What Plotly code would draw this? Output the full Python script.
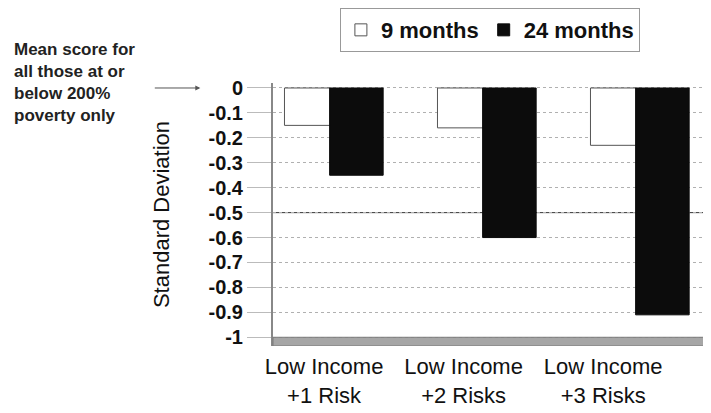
import plotly.graph_objects as go

categories = ["Low Income<br>+1 Risk", "Low Income<br>+2 Risks", "Low Income<br>+3 Risks"]
months_9 = [-0.15, -0.16, -0.23]
months_24 = [-0.35, -0.60, -0.91]
series_names = ["9 months", "24 months"]
y_tick_vals = [0, -0.1, -0.2, -0.3, -0.4, -0.5, -0.6, -0.7, -0.8, -0.9, -1]
y_tick_text = ["0", "-0.1", "-0.2", "-0.3", "-0.4", "-0.5", "-0.6", "-0.7", "-0.8", "-0.9", "-1"]
note_text = "Mean score for<br>all those at or<br>below 200%<br>poverty only"
y_title = "Standard Deviation"

FONT = "Liberation Sans, Arial, sans-serif"

fig = go.Figure()
fig.add_trace(go.Bar(
    x=categories, y=months_9, name=series_names[0],
    marker=dict(color="white", line=dict(color="#555555", width=1)),
    width=0.30,
))
fig.add_trace(go.Bar(
    x=categories, y=months_24, name=series_names[1],
    marker=dict(color="#0c0c0c", line=dict(color="#0c0c0c", width=1)),
    width=0.35,
))
# invisible helper trace that carries the category labels on the label axis
fig.add_trace(go.Scatter(
    x=categories, y=months_9, xaxis="x2", mode="markers",
    marker=dict(opacity=0), showlegend=False, hoverinfo="skip",
))

# floor of the chart
fig.add_shape(type="rect", xref="paper", x0=0, x1=1, yref="y", y0=-1.035, y1=-1.0,
              fillcolor="#a6a6a6", line=dict(color="#7a7a7a", width=1), layer="above")
# emphasised gridline
fig.add_shape(type="line", xref="paper", x0=0, x1=1, yref="y", y0=-0.5, y1=-0.5,
              line=dict(color="#333333", width=1), layer="below")

# left note and arrow
fig.add_annotation(text=note_text, xref="paper", yref="y", x=-0.585, y=0, yshift=5,
                   xanchor="left", yanchor="middle", align="left", showarrow=False,
                   font=dict(family=FONT, size=17, color="#222222", weight="bold"))
fig.add_annotation(text="", xref="paper", yref="y", x=-0.163, y=0,
                   ax=-47, ay=0, showarrow=True, arrowhead=2, arrowsize=1,
                   arrowwidth=1, arrowcolor="#555555")

fig.update_layout(
    width=711, height=413,
    margin=dict(l=265, r=0, t=75, b=75),
    paper_bgcolor="white", plot_bgcolor="white",
    barmode="group", bargap=0.36, bargroupgap=0,
    font=dict(family=FONT, color="black"),
    showlegend=True,
    legend=dict(orientation="h", x=0.15, y=1.285, xanchor="left", yanchor="top",
                bordercolor="#999999", borderwidth=1, bgcolor="white",
                font=dict(family=FONT, size=22, weight="bold", color="#111111"),
                itemwidth=30, tracegroupgap=0),
    xaxis=dict(range=[-0.385, 2.53], showticklabels=False, showgrid=False,
               zeroline=False, showline=False, ticks=""),
    xaxis2=dict(overlaying="x", anchor="y", side="bottom", range=[-0.366, 2.83],
                showgrid=False, zeroline=False, showline=False,
                ticks="", ticklabelstandoff=5,
                tickfont=dict(family=FONT, size=22, color="#111111")),
    yaxis=dict(range=[-1.035, 0.02], tickvals=y_tick_vals, ticktext=y_tick_text,
               tickfont=dict(family=FONT, size=20, weight="bold", color="#111111"),
               ticks="outside", ticklen=24, tickcolor="#bbbbbb",
               showgrid=True, gridcolor="#b0b0b0", griddash="dot", gridwidth=1,
               zeroline=False, showline=True, linecolor="#888888", linewidth=2,
               title=dict(text=y_title, standoff=33,
                          font=dict(family=FONT, size=22, color="#111111"))),
)

fig.write_html("out.html")
